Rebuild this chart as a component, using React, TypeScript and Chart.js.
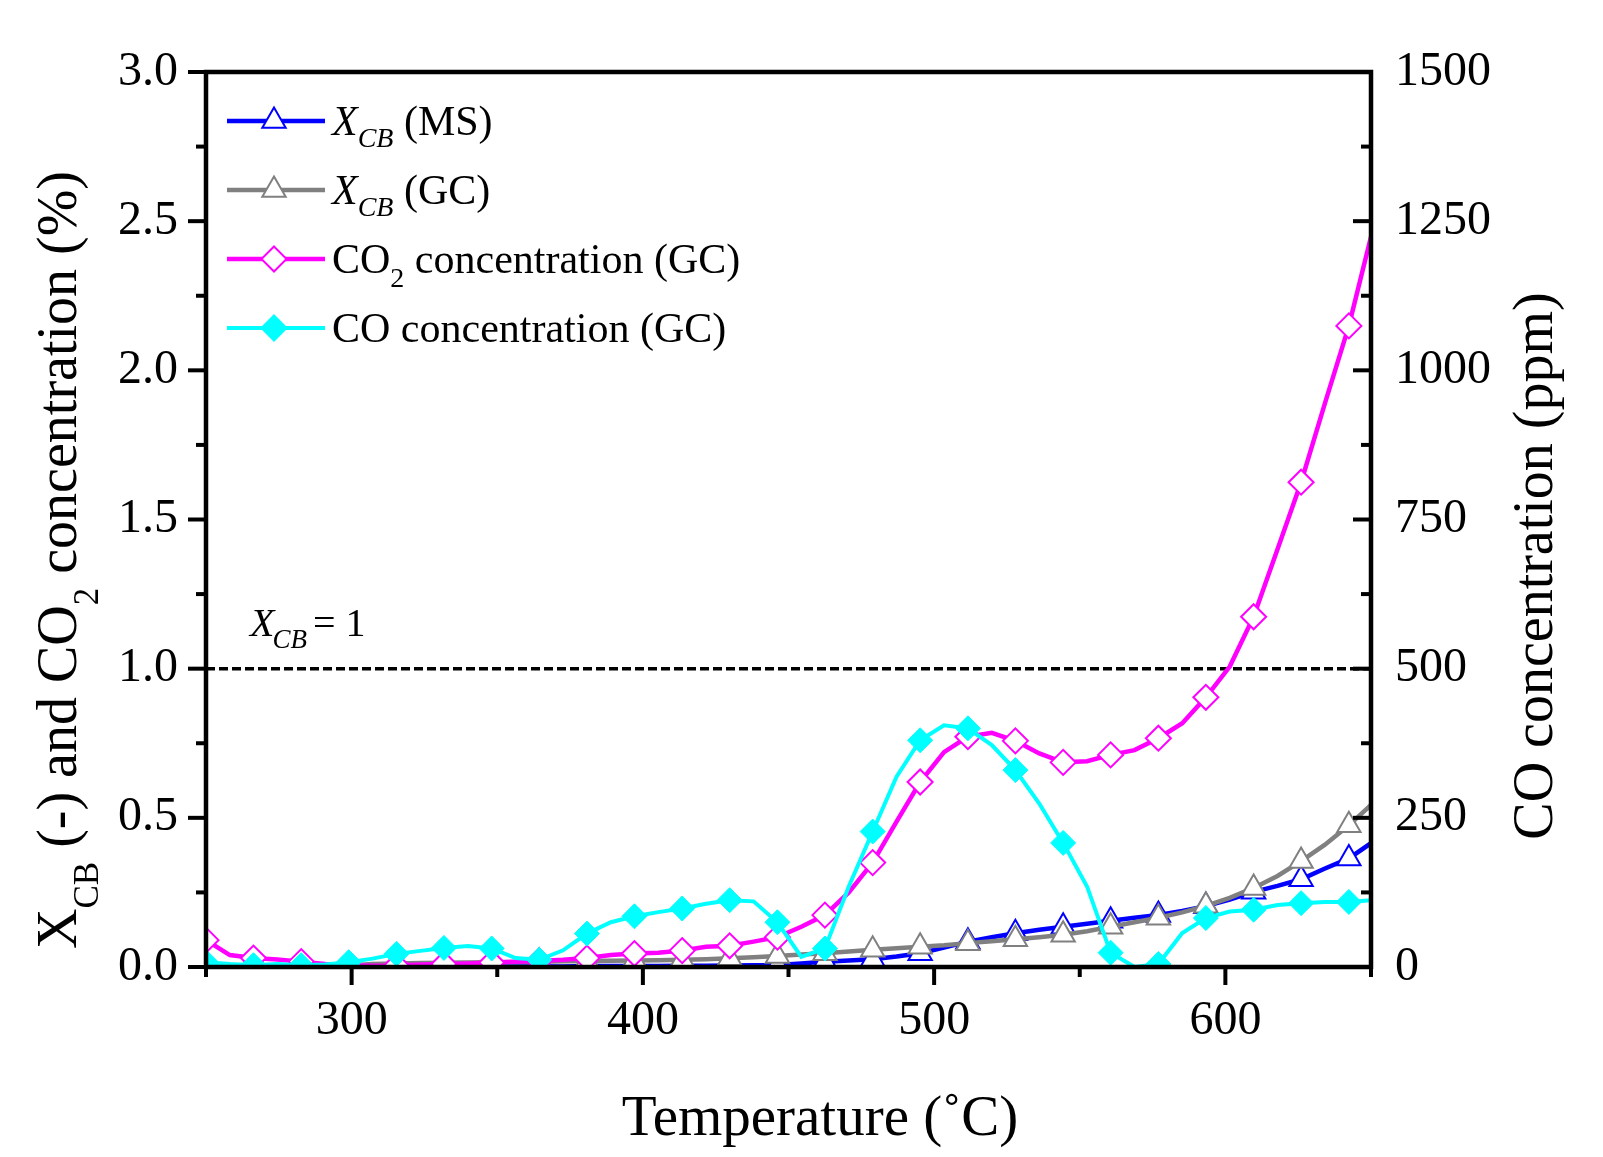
import React, { useEffect, useRef } from "react";
import { Chart, registerables } from "chart.js";

Chart.register(...registerables);

// ---------- data ----------
const temperatures = [
  250, 258.2, 266.3, 274.5, 282.7, 290.9, 299.0, 307.2, 315.4, 323.6,
  331.7, 339.9, 348.1, 356.3, 364.4, 372.6, 380.8, 389.0, 397.1, 405.3,
  413.5, 421.7, 429.8, 438.0, 446.2, 454.4, 462.5, 470.7, 478.9, 487.1,
  495.2, 503.4, 511.6, 519.8, 527.9, 536.1, 544.3, 552.5, 560.6, 568.8,
  577.0, 585.2, 593.3, 601.5, 609.7, 617.9, 626.0, 634.2, 642.4, 650,
];

const xcbMS = [
  0, 0, 0, 0, 0, 0, 0, 0, 0.001, 0.001,
  0.001, 0.001, 0.002, 0.002, 0.002, 0.002, 0.003, 0.003, 0.003, 0.003,
  0.004, 0.004, 0.005, 0.006, 0.007, 0.012, 0.018, 0.022, 0.026, 0.035,
  0.046, 0.065, 0.085, 0.1, 0.113, 0.125, 0.135, 0.145, 0.155, 0.165,
  0.174, 0.188, 0.204, 0.226, 0.252, 0.272, 0.294, 0.33, 0.364, 0.415,
];

const xcbGC = [
  0, 0, 0, 0, 0, 0.002, 0.005, 0.01, 0.012, 0.013,
  0.014, 0.015, 0.016, 0.017, 0.018, 0.019, 0.02, 0.021, 0.022, 0.023,
  0.024, 0.026, 0.029, 0.033, 0.037, 0.042, 0.046, 0.052, 0.058, 0.063,
  0.068, 0.073, 0.08, 0.086, 0.093, 0.1, 0.108, 0.12, 0.135, 0.15,
  0.165, 0.183, 0.205, 0.232, 0.265, 0.305, 0.355, 0.41, 0.475, 0.543,
];

const co2Pct = [
  0.09, 0.04, 0.03, 0.025, 0.018, 0.01, 0.006, 0.004, 0.005, 0.008,
  0.01, 0.012, 0.015, 0.018, 0.02, 0.024, 0.03, 0.04, 0.045, 0.048,
  0.055, 0.068, 0.071, 0.085, 0.1, 0.135, 0.174, 0.25, 0.35, 0.487,
  0.62, 0.72, 0.772, 0.785, 0.758, 0.716, 0.686, 0.69, 0.711, 0.727,
  0.767, 0.817, 0.904, 1.007, 1.174, 1.4, 1.625, 1.89, 2.149, 2.448,
];

const coPpm = [
  8, 5, 3, 5, 3, 4, 8, 14, 22, 27,
  32, 35, 31, 15, 12, 28, 56, 75, 85, 92,
  98, 106, 112, 110, 75, 17, 31, 135, 227, 319,
  380, 405, 400, 372, 330, 274, 208, 135, 24, 0,
  5, 57, 82, 93, 96, 104, 107, 109, 109, 112,
];

const xTickValues = [300, 400, 500, 600];
const xMinorValues = [250, 350, 450, 550, 650];
const leftTickValues = [0, 0.5, 1.0, 1.5, 2.0, 2.5, 3.0];
const leftMinorValues = [0.25, 0.75, 1.25, 1.75, 2.25, 2.75];
const rightTickValues = [0, 250, 500, 750, 1000, 1250, 1500];
const rightMinorValues = [125, 375, 625, 875, 1125, 1375];
const referenceLevel = 1.0;

// ---------- style ----------
const FONT = "'Liberation Serif', 'Times New Roman', serif";
const BLUE = "#0000ff";
const GRAY = "#808080";
const MAGENTA = "#ff00ff";
const CYAN = "#00ffff";

type Seg = { t: string; size: number; italic?: boolean; dy?: number; dx?: number };

function setFont(ctx: CanvasRenderingContext2D, s: Seg) {
  ctx.font = `${s.italic ? "italic " : ""}${s.size}px ${FONT}`;
}

function drawRich(
  ctx: CanvasRenderingContext2D,
  segs: Seg[],
  x: number,
  y: number,
  align: "left" | "center"
) {
  const widths = segs.map((s) => {
    setFont(ctx, s);
    return ctx.measureText(s.t).width + (s.dx || 0);
  });
  const total = widths.reduce((a, b) => a + b, 0);
  let cx = align === "center" ? x - total / 2 : x;
  ctx.textAlign = "left";
  ctx.textBaseline = "alphabetic";
  ctx.fillStyle = "#000";
  segs.forEach((s, i) => {
    setFont(ctx, s);
    ctx.fillText(s.t, cx + (s.dx || 0), y + (s.dy || 0));
    cx += widths[i];
  });
}

const legendItems: {
  segs: Seg[];
  color: string;
  style: string;
  fill: string;
  radius: number;
  width: number;
  dy: number;
}[] = [
  {
    segs: [
      { t: "X", size: 42, italic: true },
      { t: "CB", size: 28, italic: true, dy: 12 },
      { t: " (MS)", size: 42 },
    ],
    color: BLUE,
    style: "triangle",
    fill: "#fff",
    radius: 13.5,
    width: 4.5,
    dy: 14,
  },
  {
    segs: [
      { t: "X", size: 42, italic: true },
      { t: "CB", size: 28, italic: true, dy: 12 },
      { t: " (GC)", size: 42 },
    ],
    color: GRAY,
    style: "triangle",
    fill: "#fff",
    radius: 13.5,
    width: 4.5,
    dy: 14,
  },
  {
    segs: [
      { t: "CO", size: 42 },
      { t: "2", size: 28, dy: 14 },
      { t: " concentration (GC)", size: 42 },
    ],
    color: MAGENTA,
    style: "rectRot",
    fill: "#fff",
    radius: 12.5,
    width: 4.5,
    dy: 14,
  },
  {
    segs: [{ t: "CO concentration (GC)", size: 42 }],
    color: CYAN,
    style: "rectRot",
    fill: CYAN,
    radius: 12.5,
    width: 4,
    dy: 14,
  },
];

function drawMarker(
  ctx: CanvasRenderingContext2D,
  style: string,
  x: number,
  y: number,
  r: number,
  stroke: string,
  fill: string
) {
  ctx.beginPath();
  if (style === "triangle") {
    for (let k = 0; k < 3; k++) {
      const a = (k * 2 * Math.PI) / 3;
      const px = x + Math.sin(a) * r;
      const py = y - Math.cos(a) * r;
      if (k === 0) ctx.moveTo(px, py);
      else ctx.lineTo(px, py);
    }
  } else {
    ctx.moveTo(x, y - r);
    ctx.lineTo(x + r, y);
    ctx.lineTo(x, y + r);
    ctx.lineTo(x - r, y);
  }
  ctx.closePath();
  ctx.fillStyle = fill;
  ctx.fill();
  ctx.lineWidth = 2;
  ctx.strokeStyle = stroke;
  ctx.stroke();
}

const decorPlugin = {
  id: "decor",
  beforeDatasetsDraw(chart: any) {
    const { ctx, chartArea } = chart;
    const y = chart.scales.y.getPixelForValue(referenceLevel);
    ctx.save();
    ctx.strokeStyle = "#000";
    ctx.lineWidth = 3.5;
    ctx.setLineDash([9, 4]);
    ctx.beginPath();
    ctx.moveTo(chartArea.left, y);
    ctx.lineTo(chartArea.right, y);
    ctx.stroke();
    ctx.restore();
  },
  afterDraw(chart: any) {
    const { ctx, chartArea } = chart;
    const { left, right, top, bottom } = chartArea;
    const sx = chart.scales.x;
    const sy = chart.scales.y;
    const sy2 = chart.scales.y2;
    ctx.save();
    // frame
    ctx.strokeStyle = "#000";
    ctx.lineWidth = 4.5;
    ctx.setLineDash([]);
    ctx.strokeRect(left, top, right - left, bottom - top);
    // ticks
    ctx.lineWidth = 4;
    const line = (x1: number, y1: number, x2: number, y2: number) => {
      ctx.beginPath();
      ctx.moveTo(x1, y1);
      ctx.lineTo(x2, y2);
      ctx.stroke();
    };
    leftTickValues.forEach((v) => {
      const y = sy.getPixelForValue(v);
      line(left - 18, y, left, y);
    });
    leftMinorValues.forEach((v) => {
      const y = sy.getPixelForValue(v);
      line(left - 10, y, left, y);
    });
    xTickValues.forEach((v) => {
      const x = sx.getPixelForValue(v);
      line(x, bottom, x, bottom + 18);
    });
    xMinorValues.forEach((v) => {
      const x = sx.getPixelForValue(v);
      line(x, bottom, x, bottom + 10);
    });
    rightTickValues.forEach((v) => {
      const y = sy2.getPixelForValue(v);
      line(right - 18, y, right, y);
    });
    rightMinorValues.forEach((v) => {
      const y = sy2.getPixelForValue(v);
      line(right - 10, y, right, y);
    });

    // legend
    legendItems.forEach((it, i) => {
      const cy = 121 + i * 69;
      ctx.strokeStyle = it.color;
      ctx.lineWidth = it.width;
      line(227, cy, 325, cy);
      drawMarker(ctx, it.style, 274, cy, it.radius, it.color, it.fill);
      drawRich(ctx, it.segs, 332, cy + it.dy, "left");
    });

    // reference annotation
    drawRich(
      ctx,
      [
        { t: "X", size: 40, italic: true },
        { t: "CB", size: 27, italic: true, dy: 12, dx: -2 },
        { t: "= 1", size: 40, dx: 6 },
      ],
      250,
      636,
      "left"
    );

    // axis titles
    drawRich(ctx, [{ t: "Temperature (\u02DAC)", size: 57 }], 820, 1135, "center");

    ctx.save();
    ctx.translate(76, 560);
    ctx.rotate(-Math.PI / 2);
    drawRich(
      ctx,
      [
        { t: "X", size: 56 },
        { t: "CB", size: 35, dy: 22 },
        { t: " (-) and CO", size: 56 },
        { t: "2", size: 35, dy: 22 },
        { t: " concentration (%)", size: 56 },
      ],
      0,
      0,
      "center"
    );
    ctx.restore();

    ctx.save();
    ctx.translate(1552, 566);
    ctx.rotate(-Math.PI / 2);
    drawRich(ctx, [{ t: "CO concentration (ppm)", size: 56 }], 0, 0, "center");
    ctx.restore();

    ctx.restore();
  },
};

const markerRadius = (r: number) =>
  temperatures.map((_, i) => (i % 2 === 0 ? r : 0));

const toPoints = (vals: number[]) =>
  temperatures.map((t, i) => ({ x: t, y: vals[i] }));

export default function App() {
  const ref = useRef<HTMLCanvasElement | null>(null);

  useEffect(() => {
    document.body.style.margin = "0";
    const canvas = ref.current;
    if (!canvas) return;
    const tickFont = { family: FONT, size: 48 };
    const chart = new Chart(canvas, {
      type: "line",
      data: {
        datasets: [
          {
            label: "CO concentration (GC)",
            data: toPoints(coPpm),
            yAxisID: "y2",
            borderColor: CYAN,
            borderWidth: 4,
            pointStyle: "rectRot",
            pointRadius: markerRadius(12.5),
            pointBackgroundColor: CYAN,
            pointBorderColor: CYAN,
            pointBorderWidth: 1,
            tension: 0,
            order: 0,
          },
          {
            label: "CO2 concentration (GC)",
            data: toPoints(co2Pct),
            yAxisID: "y",
            borderColor: MAGENTA,
            borderWidth: 4.5,
            pointStyle: "rectRot",
            pointRadius: markerRadius(12.5),
            pointBackgroundColor: "#ffffff",
            pointBorderColor: MAGENTA,
            pointBorderWidth: 2,
            tension: 0,
            order: 1,
          },
          {
            label: "XCB (GC)",
            data: toPoints(xcbGC),
            yAxisID: "y",
            borderColor: GRAY,
            borderWidth: 4.5,
            pointStyle: "triangle",
            pointRadius: markerRadius(13.5),
            pointBackgroundColor: "#ffffff",
            pointBorderColor: GRAY,
            pointBorderWidth: 2,
            tension: 0,
            order: 2,
          },
          {
            label: "XCB (MS)",
            data: toPoints(xcbMS),
            yAxisID: "y",
            borderColor: BLUE,
            borderWidth: 4.5,
            pointStyle: "triangle",
            pointRadius: markerRadius(13.5),
            pointBackgroundColor: "#ffffff",
            pointBorderColor: BLUE,
            pointBorderWidth: 2,
            tension: 0,
            order: 3,
          },
        ],
      },
      options: {
        animation: false,
        responsive: false,
        devicePixelRatio: 1,
        events: [],
        layout: { padding: { top: 72, left: 0, right: 0, bottom: 0 } },
        plugins: {
          legend: { display: false },
          tooltip: { enabled: false },
        },
        scales: {
          x: {
            type: "linear",
            position: "bottom",
            min: 250,
            max: 650,
            grid: { display: false, drawTicks: false },
            border: { display: false },
            ticks: { font: tickFont, color: "#000", padding: 26, maxRotation: 0 },
            afterBuildTicks: (s: any) => {
              s.ticks = xTickValues.map((v) => ({ value: v }));
            },
            afterFit: (s: any) => {
              s.height = 190;
            },
          },
          y: {
            type: "linear",
            position: "left",
            min: 0,
            max: 3,
            grid: { display: false, drawTicks: false },
            border: { display: false },
            ticks: {
              font: tickFont,
              color: "#000",
              padding: 28,
              callback: (v: any) => Number(v).toFixed(1),
            },
            afterBuildTicks: (s: any) => {
              s.ticks = leftTickValues.map((v) => ({ value: v }));
            },
            afterFit: (s: any) => {
              s.width = 206;
            },
          },
          y2: {
            type: "linear",
            position: "right",
            min: 0,
            max: 1500,
            grid: { display: false, drawTicks: false },
            border: { display: false },
            ticks: {
              font: tickFont,
              color: "#000",
              padding: 24,
              callback: (v: any) => String(v),
            },
            afterBuildTicks: (s: any) => {
              s.ticks = rightTickValues.map((v) => ({ value: v }));
            },
            afterFit: (s: any) => {
              s.width = 232;
            },
          },
        },
      },
      plugins: [decorPlugin],
    } as any);
    return () => chart.destroy();
  }, []);

  return (
    <div style={{ position: "absolute", left: 0, top: 0, width: 1603, height: 1157, background: "#fff" }}>
      <canvas ref={ref} width={1603} height={1157} style={{ width: 1603, height: 1157, display: "block" }} />
    </div>
  );
}
